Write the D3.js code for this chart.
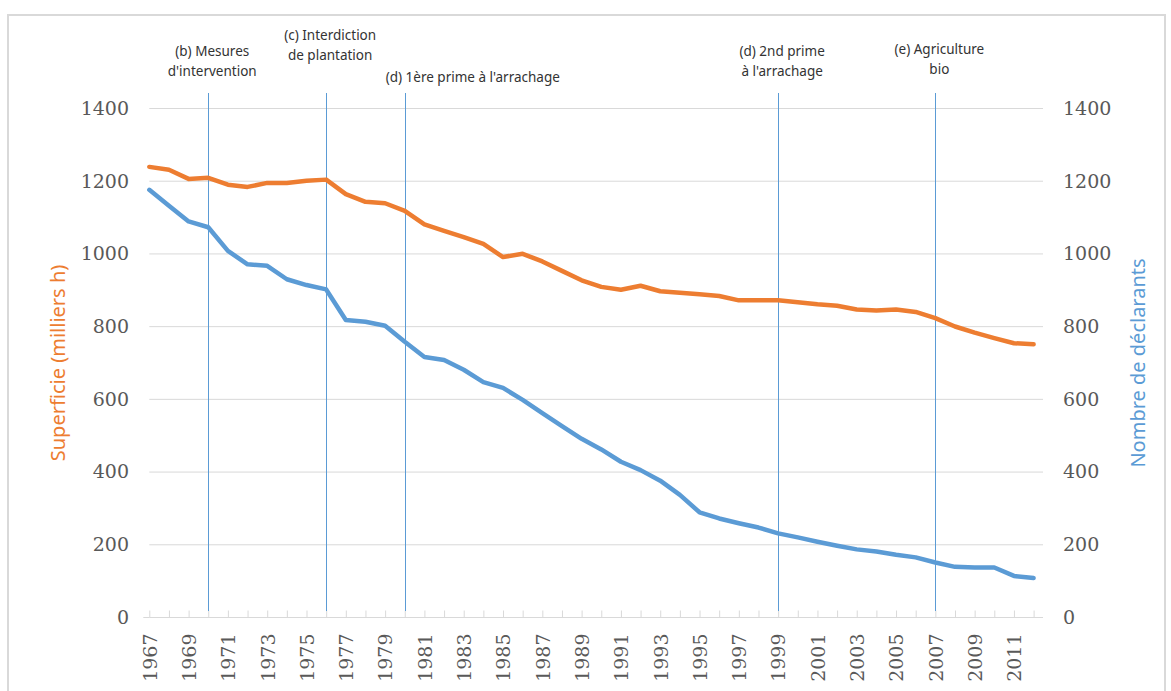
<!DOCTYPE html>
<html lang="fr">
<head>
<meta charset="utf-8">
<script src="https://d3js.org/d3.v7.min.js"></script>
<style>
body { margin: 0; background: #fff; }
</style>
</head>
<body>
<script>
// annees 1967 - 2012
var years = d3.range(1967, 2013);

// superficie (milliers h), axe gauche
var superficie = [1238, 1230, 1205, 1208, 1189, 1183, 1194, 1194, 1200, 1203,
	1163, 1142, 1138, 1117, 1080, 1062, 1045, 1026, 990, 999,
	978, 952, 926, 908, 900, 911, 896, 892, 888, 883,
	871, 871, 871, 866, 860, 856, 846, 843, 846, 839,
	822, 799, 782, 767, 753, 750];

// nombre de declarants, axe droit
var declarants = [1175, 1131, 1088, 1072, 1007, 970, 966, 929, 913, 901,
	817, 812, 801, 757, 715, 707, 680, 646, 630, 597,
	561, 525, 490, 461, 427, 404, 375, 336, 288, 271,
	258, 246, 230, 219, 207, 196, 186, 180, 171, 164,
	150, 138, 136, 136, 113, 107];

var yTicks = [0, 200, 400, 600, 800, 1000, 1200, 1400];

// evenements (lignes verticales)
var eventYears = [1970, 1976, 1980, 1999, 2007];
var eventLabels = [
	["(b) Mesures", "d'intervention"],
	["(c) Interdiction", "de plantation"],
	["(d) 1ère prime à l'arrachage"],
	["(d) 2nd prime", "à l'arrachage"],
	["(e) Agriculture", "bio"]
];
var eventLabelTop = [56, 40, 82, 56, 54];

var W = 1171, H = 691;
var svg = d3.select("body").append("svg")
	.attr("width", W)
	.attr("height", H);

// cadre
svg.append("rect")
	.attr("x", 8).attr("y", 15)
	.attr("width", W - 14).attr("height", H - 6)
	.attr("fill", "none")
	.attr("stroke", "#d9d9d9")
	.attr("stroke-width", 2);

var x = d3.scaleLinear().domain([1967, 2012]).range([149.3, 1033.6]);
var yL = d3.scaleLinear().domain([0, 1400]).range([617, 108]);
var yR = d3.scaleLinear().domain([0, 1400]).range([617, 108]);
var axisEnd = 1043;

// grille
svg.append("g").selectAll("line")
	.data(yTicks.filter(function(d){ return d > 0; }))
	.enter().append("line")
	.attr("x1", x(1967)).attr("x2", axisEnd)
	.attr("y1", function(d){ return yL(d) + 0.5; })
	.attr("y2", function(d){ return yL(d) + 0.5; })
	.attr("stroke", "#d9d9d9")
	.attr("stroke-width", 1);

var tickFont = "'DejaVu Serif', serif";

// axe gauche
svg.append("g").selectAll("text")
	.data(yTicks)
	.enter().append("text")
	.attr("x", 129)
	.attr("y", function(d){ return yL(d); })
	.attr("dy", "0.36em")
	.attr("text-anchor", "end")
	.style("font-family", tickFont)
	.style("font-size", "19px")
	.attr("fill", "#595959")
	.text(function(d){ return d; });

// axe droit
svg.append("g").selectAll("text")
	.data(yTicks)
	.enter().append("text")
	.attr("x", 1063)
	.attr("y", function(d){ return yR(d); })
	.attr("dy", "0.36em")
	.attr("text-anchor", "start")
	.style("font-family", tickFont)
	.style("font-size", "19px")
	.attr("fill", "#595959")
	.text(function(d){ return d; });

// axe x
var xAxis = d3.axisBottom(x)
	.tickValues(years)
	.tickSize(-7)
	.tickFormat(function(d){ return (d - 1967) % 2 === 0 ? d : ""; });

var gx = svg.append("g")
	.attr("transform", "translate(0," + (yL(0) + 0.5) + ")")
	.call(xAxis);
gx.select(".domain").remove();
gx.append("line")
	.attr("x1", x(1967)).attr("x2", axisEnd)
	.attr("stroke", "#d9d9d9");
gx.selectAll(".tick line").attr("stroke", "#d9d9d9");
gx.selectAll(".tick text")
	.attr("transform", "rotate(-90)")
	.attr("x", -16)
	.attr("y", 0)
	.attr("dy", "0.36em")
	.attr("text-anchor", "end")
	.style("font-family", tickFont)
	.style("font-size", "19px")
	.attr("fill", "#595959");

// petit tick gauche a zero
svg.append("line")
	.attr("x1", x(1967) - 6).attr("x2", x(1967))
	.attr("y1", yL(0) + 0.5).attr("y2", yL(0) + 0.5)
	.attr("stroke", "#d9d9d9");

// lignes verticales
svg.append("g").selectAll("line")
	.data(eventYears)
	.enter().append("line")
	.attr("x1", function(d){ return Math.round(x(d)) + 0.5; })
	.attr("x2", function(d){ return Math.round(x(d)) + 0.5; })
	.attr("y1", 93)
	.attr("y2", 611)
	.attr("stroke", "#5b9bd5")
	.attr("stroke-width", 1);

// libelles des evenements
var ev = svg.append("g").selectAll("text")
	.data(eventYears)
	.enter().append("text")
	.attr("text-anchor", "middle")
	.style("font-family", "'Noto Sans', sans-serif")
	.style("font-size", "13.5px")
	.attr("fill", "#333");
ev.each(function(d, i){
	var t = d3.select(this);
	eventLabels[i].forEach(function(s, j){
		t.append("tspan")
			.attr("x", x(d) + (i === 2 ? 68 : 4))
			.attr("y", eventLabelTop[i] + j * 19.5)
			.text(s);
	});
});

// courbes
var lineL = d3.line()
	.x(function(d, i){ return x(years[i]); })
	.y(function(d){ return yL(d); });
var lineR = d3.line()
	.x(function(d, i){ return x(years[i]); })
	.y(function(d){ return yR(d); });

svg.append("path")
	.datum(declarants)
	.attr("d", lineR)
	.attr("fill", "none")
	.attr("stroke", "#5b9bd5")
	.attr("stroke-width", 4.5)
	.attr("stroke-linejoin", "round")
	.attr("stroke-linecap", "round");

svg.append("path")
	.datum(superficie)
	.attr("d", lineL)
	.attr("fill", "none")
	.attr("stroke", "#ed7d31")
	.attr("stroke-width", 4.5)
	.attr("stroke-linejoin", "round")
	.attr("stroke-linecap", "round");

// titres des axes
svg.append("text")
	.attr("transform", "translate(65,363) rotate(-90)")
	.attr("text-anchor", "middle")
	.style("font-family", "'Noto Sans', sans-serif")
	.style("font-size", "20px")
	.attr("fill", "#ed7d31")
	.text("Superficie (milliers h)");

svg.append("text")
	.attr("transform", "translate(1145,363) rotate(-90)")
	.attr("text-anchor", "middle")
	.style("font-family", "'Noto Sans', sans-serif")
	.style("font-size", "20px")
	.attr("fill", "#5b9bd5")
	.text("Nombre de déclarants");
</script>
</body>
</html>
